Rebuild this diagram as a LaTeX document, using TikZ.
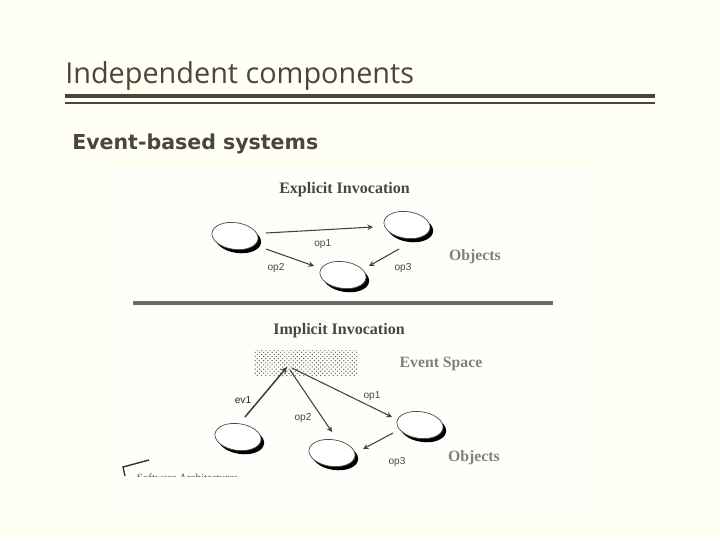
\documentclass[tikz,border=0pt]{standalone}
\usepackage{fontspec}
\setmainfont{Open Sans}
\newfontfamily\figserif{Liberation Serif}
\newfontfamily\figsans{Liberation Sans}
\newfontfamily\subfont{DejaVu Sans}
\usetikzlibrary{shapes.geometric,shadows,patterns}
\definecolor{slidebg}{HTML}{FFFFF4}
\definecolor{slidetext}{HTML}{4A4638}
\definecolor{figwhite}{HTML}{FFFEFB}
\tikzset{
  obj/.style={ellipse,draw=black!70,line width=.5pt,fill=white,minimum width=33pt,minimum height=19pt,inner sep=0pt,rotate=-8,
    general shadow={fill=black,shadow xshift=2.2pt,shadow yshift=-2.6pt}},
  oplabel/.style={font=\figsans\fontsize{7.2}{8}\selectfont,text=black!72,inner sep=0pt},
  headlabel/.style={font=\figserif\bfseries\fontsize{11.4}{13}\selectfont,text=black!72,inner sep=0pt},
  sidelabel/.style={font=\figserif\bfseries\fontsize{11.2}{13}\selectfont,text=black!50,inner sep=0pt},
  conn/.style={-stealth,line width=.75pt,draw=black!75}
}
\begin{document}
\begin{tikzpicture}[x=0.025cm,y=-0.025cm]
\useasboundingbox (0,0) rectangle (720,540);
\fill [slidebg] (0,0) rectangle (720,540);
% slide head
\node [anchor=base west,inner sep=0pt,text=slidetext,font=\fontsize{20.5}{24}\selectfont] (title) at (65,83) {Independent components};
\fill [slidetext] (65,94) rectangle (655,98);
\fill [slidetext] (65,101.500) rectangle (655,103.500);
\node [anchor=base west,inner sep=0pt,text=slidetext,font=\subfont\bfseries\fontsize{14.6}{18}\selectfont] (sub) at (72,149) {Event-based systems};
% scanned figure
\fill [figwhite] (108,168) rectangle (594,513);
% explicit part
\node [headlabel] (explicit) at (344.500,190) {Explicit Invocation};
\node [obj] (obja) at (235,236) {};
\node [obj] (objb) at (407,225) {};
\node [obj] (objc) at (343,275) {};
\draw [conn] ([shift={(31,-3)}]obja.center) -- node [oplabel,pos=.53,yshift=-10pt] (opa) {op1} ([shift={(-34,2)}]objb.center);
\draw [conn] ([shift={(31,13)}]obja.center) -- ([shift={(-29,-9)}]objc.center);
\draw [conn] ([shift={(-8,24)}]objb.center) -- ([shift={(26,-9)}]objc.center);
\node [oplabel] (opb) at (276,268) {op2};
\node [oplabel] (opc) at (403,268) {op3};
\node [sidelabel] (objects) at (475,257) {Objects};
\draw [line width=2.4pt,draw=black!58] (133,303) -- (553,303);
% implicit part
\node [headlabel] (implicit) at (339,331) {Implicit Invocation};
\node [rectangle,minimum width=74pt,minimum height=19pt,inner sep=0pt,fill=black!38,pattern=crosshatch dots,pattern color=black!60] (space) at (306,363.500) {};
\node [sidelabel] (event) at (441,364) {Event Space};
\node [obj] (objd) at (238,437) {};
\node [obj] (obje) at (420,425) {};
\node [obj] (objf) at (332,453) {};
\draw [conn,line width=1.1pt] ([shift={(7,-20)}]objd.center) -- ([shift={(-19,3.500)}]space.center);
\draw [conn] ([shift={(-16,6.500)}]space.center) -- ([shift={(0,-21)}]objf.center);
\draw [conn] ([shift={(-14,4.500)}]space.center) -- ([shift={(-28,-8)}]obje.center);
\draw [conn] ([shift={(-27,8)}]obje.center) -- ([shift={(31,-4)}]objf.center);
\node [oplabel,text=black!85] (opd) at (243,400) {ev1};
\node [oplabel] (ope) at (303,418) {op2};
\node [oplabel] (opf) at (372,396) {op1};
\node [oplabel] (opg) at (397,462) {op3};
\node [sidelabel] (objectsb) at (474,458) {Objects};
% cut off corner of the scan
\draw [line width=1pt,draw=black!80] (125,476) -- (123,467) -- (149,460);
\begin{scope}
\clip (108,465) rectangle (594,476);
\node [inner sep=0pt,font=\figserif\fontsize{7.8}{10}\selectfont,text=black!70] (softw) at (187.500,478) {Software Architectures};
\end{scope}
\end{tikzpicture}
\end{document}
